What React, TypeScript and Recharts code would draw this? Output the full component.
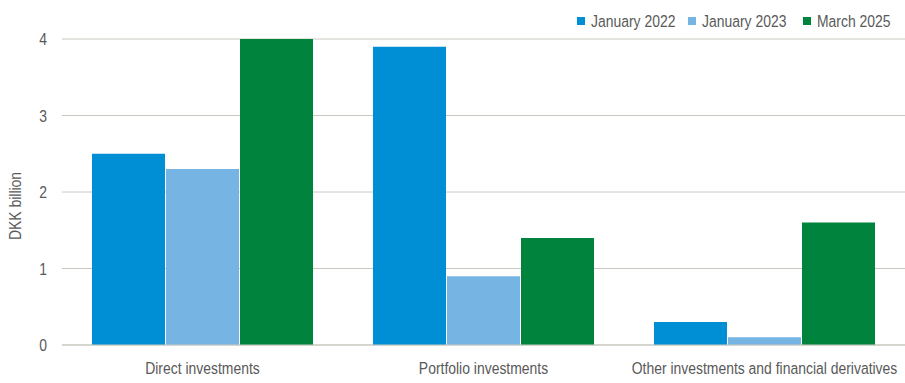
import React from "react";
import { Bar, BarChart, CartesianGrid, XAxis, YAxis } from "recharts";

const categories = ["Direct investments", "Portfolio investments", "Other investments and financial derivatives"];
const jan2022 = [2.5, 3.9, 0.3];
const jan2023 = [2.3, 0.9, 0.1];
const mar2025 = [4.0, 1.4, 1.6];
const yTicks = [0, 1, 2, 3, 4];

const series = [
	{ key: "jan2022", name: "January 2022", color: "#008fd5" },
	{ key: "jan2023", name: "January 2023", color: "#76b5e3" },
	{ key: "mar2025", name: "March 2025", color: "#00843d" },
];

const data = categories.map((name, i) => ({
	name,
	jan2022: jan2022[i],
	jan2023: jan2023[i],
	mar2025: mar2025[i],
}));

// no narrow font installed, so squeeze Liberation Sans to Arial Narrow proportions
const FONT = '"Liberation Sans", Arial, sans-serif';
const NARROW = 0.82;
const FS = 17;
const TEXT = "#595959";
const GRID = "#c8c8c0";

// left edge of each legend entry (square), legend is laid out by hand
const legendLeft = [577, 688, 803];

function XTick({ x, y, payload }: any) {
	return (
		<g transform={`translate(${x},${y})`}>
			<text
				transform={`scale(${NARROW},1)`}
				textAnchor="middle"
				dy="0.71em"
				fill={TEXT}
				fontSize={FS}
				fontFamily={FONT}
			>
				{payload.value}
			</text>
		</g>
	);
}

function YTick({ x, y, payload }: any) {
	return (
		<g transform={`translate(${x},${y})`}>
			<text
				transform={`scale(${NARROW},1)`}
				textAnchor="end"
				dy="0.355em"
				fill={TEXT}
				fontSize={FS}
				fontFamily={FONT}
			>
				{payload.value}
			</text>
		</g>
	);
}

function YLabel() {
	return (
		<text
			transform={`translate(15,206) rotate(-90) scale(${NARROW},1)`}
			textAnchor="middle"
			dy="0.355em"
			fill={TEXT}
			fontSize={FS}
			fontFamily={FONT}
		>
			DKK billion
		</text>
	);
}

export default function App() {
	return (
		<div style={{ position: "absolute", left: 0, top: 0, width: 905, height: 383 }}>
			<BarChart
				width={905}
				height={383}
				data={data}
				margin={{ top: 39, right: 0, left: 0, bottom: 0 }}
				barCategoryGap={30}
				barGap={1}
			>
				<CartesianGrid vertical={false} stroke={GRID} />
				<XAxis
					dataKey="name"
					height={38}
					axisLine={{ stroke: GRID }}
					tickLine={false}
					tickSize={0}
					tickMargin={17}
					tick={<XTick />}
					interval={0}
				/>
				<YAxis
					width={62}
					domain={[0, 4]}
					ticks={yTicks}
					axisLine={false}
					tickLine={false}
					tickSize={0}
					tickMargin={15}
					tick={<YTick />}
					label={<YLabel />}
				/>
				{series.map((s) => (
					<Bar key={s.key} dataKey={s.key} name={s.name} fill={s.color} isAnimationActive={false} />
				))}
			</BarChart>
			<svg width={905} height={36} style={{ position: "absolute", left: 0, top: 0 }}>
				{series.map((s, i) => (
					<g key={s.key}>
						<rect x={legendLeft[i]} y={17} width={8} height={8} fill={s.color} />
						<text
							transform={`translate(${legendLeft[i] + 14},21) scale(${NARROW},1)`}
							dy="0.355em"
							fill={TEXT}
							fontSize={FS}
							fontFamily={FONT}
						>
							{s.name}
						</text>
					</g>
				))}
			</svg>
		</div>
	);
}
